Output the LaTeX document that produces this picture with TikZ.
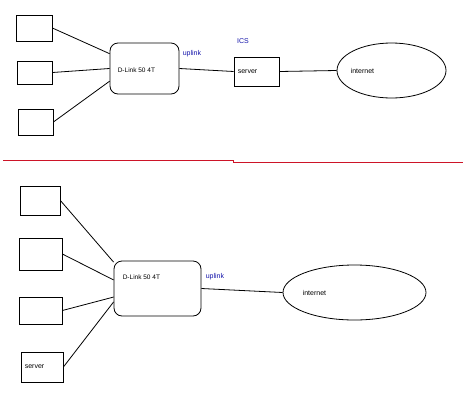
\documentclass[tikz,border=0pt]{standalone}
\usepackage{fontspec}
\setmainfont{Liberation Sans}
\usepackage{xcolor}
\usepackage{tikz}
\usetikzlibrary{shapes.geometric}

\definecolor{linkblue}{RGB}{20,20,170}
\definecolor{cutred}{RGB}{205,20,40}

\begin{document}
\begin{tikzpicture}[x=1pt, y=-1pt,
    box/.style={draw, line width=0.8pt, inner sep=0pt},
    hub/.style={draw, line width=0.8pt, rounded corners=8pt, inner sep=0pt},
    cloud/.style={draw, line width=0.8pt, ellipse, inner sep=0pt},
    wire/.style={line width=0.8pt},
    txt/.style={font=\fontsize{7}{8}\selectfont, inner sep=0pt},
    tag/.style={txt, text=linkblue}]
  \useasboundingbox (0,0) rectangle (474,402);

  % top: D-Link hub with ICS server in front of the internet
  \node[box, minimum width=36pt, minimum height=26pt] (a1) at (34,28) {};
  \node[box, minimum width=35pt, minimum height=23pt] (a2) at (34.5,72.5) {};
  \node[box, minimum width=35pt, minimum height=26pt] (a3) at (35.5,122) {};
  \node[hub, minimum width=69pt, minimum height=51pt] (hubA) at (144.5,68.5) {};
  \node[txt, anchor=west, font=\fontsize{6.5}{8}\selectfont] (hubAtxt) at ([xshift=8pt,yshift=-1.5pt]hubA.west) {D-Link 50 4T};
  \node[box, minimum width=45pt, minimum height=29pt] (srvA) at (256.5,71.5) {};
  \node[txt, anchor=west] (srvAtxt) at ([xshift=4pt]srvA.west) {server};
  \node[cloud, minimum width=109pt, minimum height=55pt] (netA) at (391.5,70.5) {};
  \node[txt, anchor=west] (netAtxt) at ([xshift=14pt]netA.west) {internet};
  \node[tag] (upA) at (192,54) {uplink};
  \node[tag] (ics) at (243,41) {ICS};

  \draw[wire] (a1.east) -- (hubA.157);
  \draw[wire] (a2.east) -- (hubA.west);
  \draw[wire] (a3.east) -- (hubA.200);
  \draw[wire] (hubA.east) -- (srvA.west);
  \draw[wire] (srvA.east) -- (netA.west);

  % red separator
  \coordinate (cutL) at (3,160);
  \coordinate (cutM) at (233,160);
  \coordinate (cutN) at (233,162);
  \coordinate (cutR) at (463,162);
  \draw[draw=cutred, line width=1pt] (cutL) -- (cutM) -- (cutN) -- (cutR);

  % bottom: server behind the D-Link hub
  \node[box, minimum width=40pt, minimum height=29pt] (b1) at (40,200.5) {};
  \node[box, minimum width=43pt, minimum height=32pt] (b2) at (40.5,254) {};
  \node[box, minimum width=43pt, minimum height=27pt] (b3) at (40.5,310.5) {};
  \node[box, minimum width=42pt, minimum height=30pt] (srvB) at (42,367) {};
  \node[txt, anchor=west] (srvBtxt) at ([xshift=4pt]srvB.west) {server};
  \node[hub, minimum width=87pt, minimum height=55pt] (hubB) at (157.5,288.5) {};
  \node[txt, anchor=west, font=\fontsize{6.5}{8}\selectfont] (hubBtxt) at ([xshift=9pt,yshift=-17pt]hubB.north west) {D-Link 50 4T};
  \node[cloud, minimum width=143pt, minimum height=55pt] (netB) at (354.5,292.5) {};
  \node[txt, anchor=west] (netBtxt) at ([xshift=20pt]netB.west) {internet};
  \node[tag] (upB) at (215,277) {uplink};

  \draw[wire] (b1.east) -- (hubB.149);
  \draw[wire] (b2.east) -- (hubB.169);
  \draw[wire] (b3.east) -- (hubB.191);
  \draw[wire] (srvB.east) -- (hubB.197);
  \draw[wire] (hubB.east) -- (netB.west);
\end{tikzpicture}
\end{document}
